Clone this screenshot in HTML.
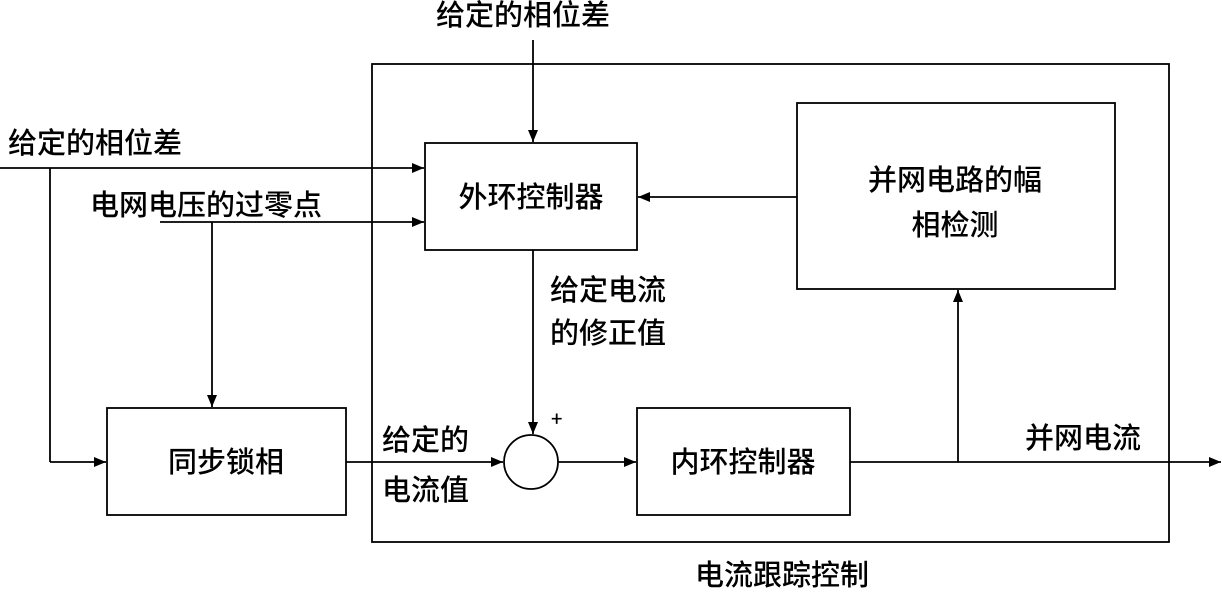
<!DOCTYPE html>
<html><head><meta charset="utf-8"><style>
html,body{margin:0;padding:0;background:#fff;}
svg text{font-family:"Noto Sans CJK SC","WenQuanYi Zen Hei",sans-serif;font-size:29px;font-weight:500;fill:#000;}
</style></head><body>
<svg width="1222" height="590" viewBox="0 0 1222 590" xmlns="http://www.w3.org/2000/svg">
<defs><marker id="a" markerWidth="12" markerHeight="10" refX="12" refY="5" orient="auto" markerUnits="userSpaceOnUse"><path d="M0,0 L12,5 L0,10 z" fill="#000"/></marker></defs>
<g fill="none" stroke="#000" stroke-width="1.8">
<rect x="372" y="64" width="797" height="478"/>
<rect x="425" y="143" width="212" height="107"/>
<rect x="797" y="103" width="318" height="186"/>
<rect x="107" y="408" width="239" height="107"/>
<rect x="637" y="408" width="213" height="107"/>
<circle cx="531" cy="462" r="27"/>
<line x1="533" y1="40" x2="533" y2="142" marker-end="url(#a)"/>
<line x1="797" y1="197" x2="638" y2="197" marker-end="url(#a)"/>
<line x1="0" y1="168" x2="424" y2="168" marker-end="url(#a)"/>
<line x1="50" y1="168" x2="50" y2="462"/>
<line x1="50" y1="462" x2="106" y2="462" marker-end="url(#a)"/>
<line x1="160" y1="222" x2="424" y2="222" marker-end="url(#a)"/>
<line x1="212" y1="222" x2="212" y2="407" marker-end="url(#a)"/>
<line x1="346" y1="462" x2="503" y2="462" marker-end="url(#a)"/>
<line x1="533" y1="250" x2="533" y2="434" marker-end="url(#a)"/>
<line x1="558" y1="462" x2="636" y2="462" marker-end="url(#a)"/>
<line x1="850" y1="462" x2="1221" y2="462" marker-end="url(#a)"/>
<line x1="958" y1="462" x2="958" y2="290" marker-end="url(#a)"/>
</g>
<text x="523" y="25" text-anchor="middle">给定的相位差</text>
<text x="531" y="207" text-anchor="middle">外环控制器</text>
<text x="955" y="190" text-anchor="middle">并网电路的幅</text>
<text x="955" y="235" text-anchor="middle">相检测</text>
<text x="8" y="153">给定的相位差</text>
<text x="90" y="215">电网电压的过零点</text>
<text x="226" y="472" text-anchor="middle">同步锁相</text>
<text x="743" y="472" text-anchor="middle">内环控制器</text>
<text x="382" y="450">给定的</text>
<text x="382" y="500">电流值</text>
<text x="550" y="300">给定电流</text>
<text x="550" y="343">的修正值</text>
<text x="551" y="426" style="font-size:20px">+</text>
<text x="1025" y="448">并网电流</text>
<text x="782" y="585" text-anchor="middle">电流跟踪控制</text>
</svg>
</body></html>
